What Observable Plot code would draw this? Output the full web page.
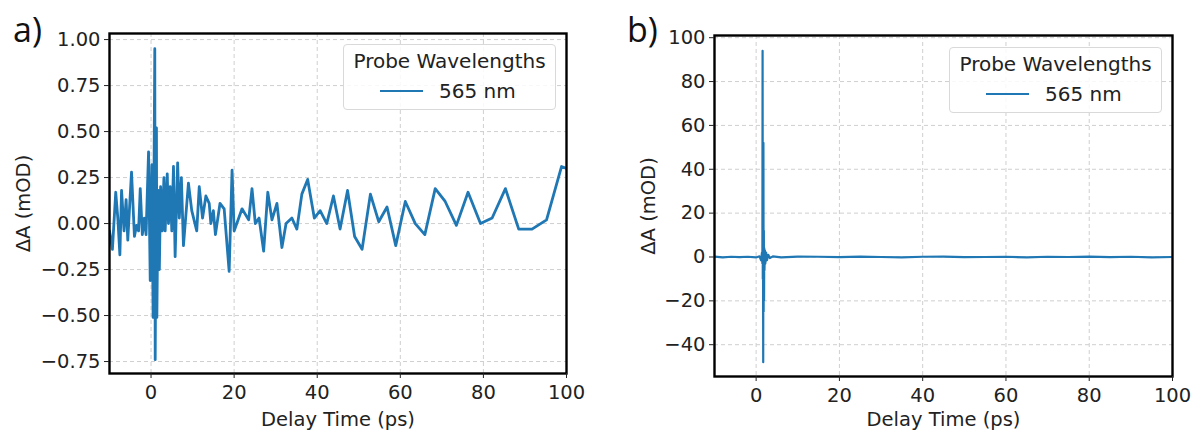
<!DOCTYPE html>
<html>
<head>
<meta charset="utf-8">
<script src="https://cdn.jsdelivr.net/npm/d3@7"></script>
<script src="https://cdn.jsdelivr.net/npm/@observablehq/plot@0.6"></script>
<style>
  html, body { margin: 0; padding: 0; background: #fff; }
  #wrap { position: relative; width: 1193px; height: 430px; overflow: hidden; background: #fff; font-family: "DejaVu Sans", sans-serif; }
  .panel { position: absolute; top: 0; }
  .plabel { position: absolute; font-family: "Open Sans", sans-serif; font-size: 34px; line-height: 34px; color: #111; }
  .legend { position: absolute; box-sizing: border-box; border: 1px solid #d9d9d9; border-radius: 4px; background: rgba(255,255,255,0.85); font-family: "DejaVu Sans", sans-serif; font-size: 20px; color: #222; }
  .legend .ttl { position: absolute; left: 0; right: 0; top: 5px; text-align: center; line-height: 22px; white-space: nowrap; }
  .legend .sw { position: absolute; height: 0; border-top: 2.5px solid #1f77b4; }
  .legend .it { position: absolute; line-height: 22px; white-space: nowrap; }
</style>
</head>
<body>
<div id="wrap"></div>
<script>
// ---------- data ----------
const probeLabel = "565 nm";
const legendTitle = "Probe Wavelengths";
const xLabel = "Delay Time (ps)";
const yLabel = "ΔA (mOD)";
const panelNames = ["a)", "b)"];

const xTicks = [0, 20, 40, 60, 80, 100];
const aYTicks = [-0.75, -0.5, -0.25, 0, 0.25, 0.5, 0.75, 1.0];
const bYTicks = [-40, -20, 0, 20, 40, 60, 80, 100];

// panel a: 565 nm, delay (ps) and ΔA (mOD)
const aTime = [
  -10, -9.3, -8.5, -8.0, -7.5, -7.1, -6.5, -6.0, -5.6, -4.7,
  -4.0, -3.5, -3.0, -2.6, -2.1, -1.6, -1.2, -0.6, -0.2, 0.2,
  0.5, 0.9, 1.0, 1.3, 1.4, 1.7, 2.0, 2.3, 2.7, 3.1,
  3.4, 3.9, 4.2, 4.6, 5.0, 5.4, 5.8, 6.4, 6.8, 7.3,
  7.8, 8.4, 9.0, 9.8, 11.0, 11.6, 12.4, 13.2, 14.0, 14.4,
  15.0, 15.5, 16.6, 17.6, 18.8, 19.5, 20.0, 21.9, 23.5, 24.3,
  25.1, 26.0, 27.1, 28.1, 29.1, 30.3, 31.5, 32.5, 33.9, 35.1,
  36.3, 37.7, 39.3, 40.7, 42.3, 43.9, 45.5, 47.3, 49.0, 50.8,
  52.8, 54.8, 56.8, 58.9, 61.2, 63.6, 65.9, 68.4, 70.8, 73.5,
  76.3, 79.3, 82.1, 85.3, 88.5, 91.7, 95.2, 98.8, 100
];
const aDA = [
  -0.04, -0.14, 0.17, 0.03, -0.17, 0.18, -0.04, 0.13, -0.09, 0.28,
  -0.07, -0.01, -0.04, 0.19, -0.06, 0.03, -0.06, 0.39, -0.31, 0.32,
  -0.51, 0.95, -0.74, 0.52, -0.51, 0.18, -0.25, 0.20, -0.04, 0.25,
  -0.04, 0.27, 0.00, 0.20, -0.04, 0.31, -0.18, 0.33, 0.03, 0.25,
  -0.12, 0.05, 0.22, 0.07, -0.04, 0.20, 0.03, 0.15, 0.11, 0.00,
  0.07, -0.06, 0.11, 0.08, -0.26, 0.29, -0.04, 0.08, 0.02, 0.19,
  0.00, 0.03, -0.15, 0.17, 0.02, 0.11, -0.13, 0.00, 0.03, -0.03,
  0.16, 0.24, 0.03, 0.07, 0.00, 0.15, -0.03, 0.18, -0.07, -0.14,
  0.16, 0.01, 0.09, -0.12, 0.12, 0.00, -0.06, 0.19, 0.12, -0.01,
  0.17, 0.00, 0.03, 0.19, -0.03, -0.03, 0.02, 0.31, 0.30
];

// panel b: 565 nm, delay (ps) and ΔA (mOD)
const bTime = [
  -10, -8, -6, -4, -2, 0, 0.8, 1.2, 1.4, 1.5,
  1.55, 1.6, 1.65, 1.7, 1.75, 1.8, 1.85, 1.9, 1.95, 2.0,
  2.1, 2.2, 2.4, 2.6, 2.9, 3.3, 4, 6, 10,
  15, 20, 25, 30, 35, 40, 45, 50, 55, 60,
  65, 70, 75, 80, 85, 90, 95, 100
];
const bDA = [
  0.2, -0.2, 0.1, -0.1, 0.1, -0.2, 0.3, -1.5, 2, -3,
  94, -10, 6, -48, 52, -25, 12, -20, 4, -6,
  3, -3, 2, -1.5, 1, -0.5, 0.3, -0.2, 0.2,
  0.1, -0.1, 0.2, 0, -0.2, 0.1, 0.2, -0.1, 0, 0.1,
  -0.2, 0.1, 0, 0.2, -0.1, 0.1, -0.2, 0.0
];

// ---------- drawing ----------
const aData = aTime.map((t, i) => ({t, v: aDA[i]}));
const bData = bTime.map((t, i) => ({t, v: bDA[i]}));

function makePanel(cfg) {
  return Plot.plot({
    width: cfg.width,
    height: 430,
    marginLeft: cfg.ml, marginRight: cfg.mr, marginTop: cfg.mt, marginBottom: cfg.mb,
    style: {fontFamily: "DejaVu Sans", fontSize: "19.5px", color: "#222", background: "transparent", overflow: "visible"},
    x: {domain: [-10, 100]},
    y: {domain: cfg.yDomain},
    marks: [
      Plot.gridX(xTicks, {stroke: "#cfcfcf", strokeOpacity: 1, strokeWidth: 1, strokeDasharray: "4,3"}),
      Plot.gridY(cfg.yTicks, {stroke: "#cfcfcf", strokeOpacity: 1, strokeWidth: 1, strokeDasharray: "4,3"}),
      Plot.line(cfg.data, {x: "t", y: "v", stroke: "#1f77b4", strokeWidth: cfg.sw, clip: true, strokeLinejoin: "round"}),
      Plot.frame({stroke: "#000", strokeWidth: 2.4}),
      Plot.axisX(xTicks, {tickSize: 5, tickPadding: 7, stroke: "#222", tickFormat: d3.format("d"),
        label: xLabel, labelAnchor: "center", labelArrow: "none", labelOffset: cfg.xlo}),
      Plot.axisY(cfg.yTicks, {tickSize: 5, tickPadding: 4, stroke: "#222", tickFormat: cfg.yFmt,
        label: yLabel, labelAnchor: "center", labelArrow: "none", labelOffset: cfg.ylo})
    ]
  });
}

const wrap = document.getElementById("wrap");

const pa = makePanel({width: 590, ml: 109, mr: 24, mt: 33, mb: 57, yDomain: [-0.815, 1.033],
  yTicks: aYTicks, yFmt: d3.format(".2f"), data: aData, sw: 2.8, xlo: 52, ylo: 93});
pa.classList.add("panel"); pa.style.left = "0px";
wrap.appendChild(pa);

const pb = makePanel({width: 593, ml: 114, mr: 21, mt: 35, mb: 54, yDomain: [-54.5, 101],
  yTicks: bYTicks, yFmt: d3.format("d"), data: bData, sw: 2.2, xlo: 49, ylo: 73});
pb.classList.add("panel"); pb.style.left = "600px";
wrap.appendChild(pb);

function addLegend(left, top) {
  const lg = document.createElement("div");
  lg.className = "legend";
  lg.style.left = left + "px"; lg.style.top = top + "px";
  lg.style.width = "213px"; lg.style.height = "66px";
  const ttl = document.createElement("div"); ttl.className = "ttl"; ttl.textContent = legendTitle;
  const sw = document.createElement("div"); sw.className = "sw";
  sw.style.left = "36px"; sw.style.width = "43px"; sw.style.top = "45px";
  const it = document.createElement("div"); it.className = "it"; it.textContent = probeLabel;
  it.style.left = "95px"; it.style.top = "35px";
  lg.appendChild(ttl); lg.appendChild(sw); lg.appendChild(it);
  wrap.appendChild(lg);
}
addLegend(343, 44);
addLegend(949, 47);

function addLabel(txt, left, top) {
  const d = document.createElement("div");
  d.className = "plabel"; d.textContent = txt;
  d.style.left = left + "px"; d.style.top = top + "px";
  wrap.appendChild(d);
}
addLabel(panelNames[0], 13, 12);
addLabel(panelNames[1], 627, 12);
</script>
</body>
</html>
